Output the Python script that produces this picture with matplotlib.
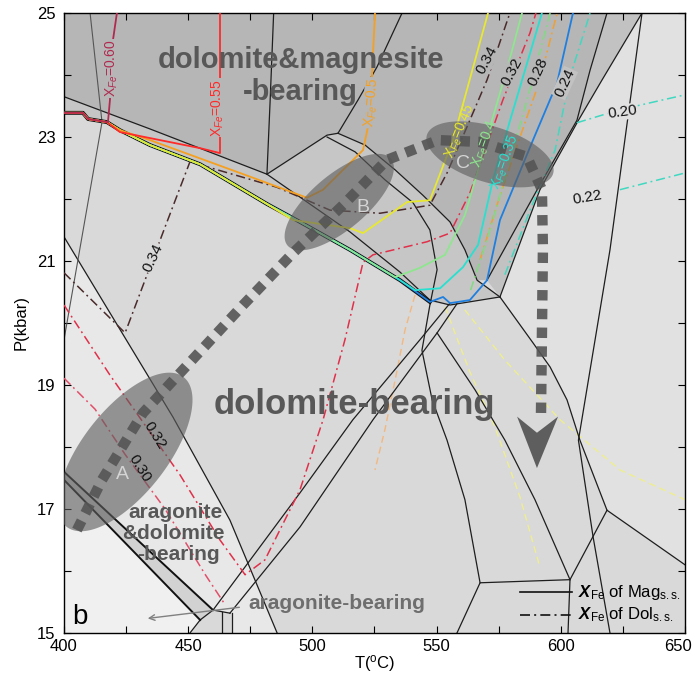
import numpy as np
import matplotlib
matplotlib.use("Agg")
import matplotlib.pyplot as plt
from matplotlib.patches import Polygon
from matplotlib.transforms import ScaledTranslation

plt.rcParams['font.family'] = ['Liberation Sans', 'DejaVu Sans']
plt.rcParams['mathtext.fontset'] = 'custom'
plt.rcParams['mathtext.rm'] = 'Liberation Sans'
plt.rcParams['mathtext.it'] = 'Liberation Sans:italic'
plt.rcParams['mathtext.bf'] = 'Liberation Sans:bold:italic'

# ---------------- data (T in degC, P in kbar) ----------------
# shared lower edge of the narrow band where all Mag isopleths run together
band_T = [400.0, 407.6, 409.7, 417.3, 422.5, 434.6, 454.8, 481.7, 495.0, 515.1, 535.3, 547.3]
band_P = [23.39, 23.39, 23.29, 23.24, 23.11, 22.87, 22.56, 21.92, 21.63, 21.18, 20.69, 20.34]

# XFe of magnesite (solid)
mag060_T = [400.0, 407.6, 409.7, 417.7, 418.5, 419.7, 421.3]
mag060_P = [23.39, 23.39, 23.29, 23.24, 23.60, 24.56, 25.0]
mag055_T = [400.0, 407.6, 409.7, 417.3, 422.5, 454.8, 462.8, 462.8]
mag055_P = [23.39, 23.39, 23.29, 23.24, 23.08, 22.82, 22.74, 25.0]
mag050_T = band_T[:5] + [434.6, 474.9, 497.8, 504.3, 520.4, 523.2, 525.2]
mag050_P = band_P[:5] + [22.95, 22.36, 22.02, 22.15, 22.79, 23.32, 25.0]
mag045_T = band_T[:8] + [492.2, 515.1, 520.4, 538.1, 547.3, 556.6, 562.2, 570.7]
mag045_P = band_P[:8] + [21.66, 21.53, 21.45, 21.95, 21.98, 22.95, 23.76, 25.0]
mag040_T = band_T[:10] + [533.3, 543.3, 553.4, 561.4, 566.7, 572.3, 578.8, 584.4]
mag040_P = band_P[:10] + [20.74, 20.89, 21.10, 21.74, 22.47, 23.27, 24.16, 25.0]
mag035_T = band_T[:11] + [541.3, 551.4, 560.6, 566.7, 572.7, 579.6, 586.8, 592.4]
mag035_P = band_P[:11] + [20.53, 20.56, 20.90, 21.26, 22.31, 23.27, 24.24, 25.0]
mag030_T = band_T + [552.6, 555.4, 563.4, 570.3, 575.5, 588.8, 598.5, 604.9]
mag030_P = band_P + [20.42, 20.32, 20.37, 20.69, 21.66, 22.95, 23.87, 25.0]

# XFe of dolomite (dash-dot)
dol034_T = [400.0, 424.6, 440.7, 450.7, 485.7, 507.1, 527.2, 547.3, 554.2, 562.2, 570.3, 579.5]
dol034_P = [20.81, 19.84, 21.55, 22.60, 22.19, 21.82, 21.77, 21.90, 22.42, 23.16, 23.92, 25.0]
dol032_T = [400.0, 418.5, 434.6, 446.7, 462.8, 472.9, 480.9, 495.0, 504.3, 513.1, 520.4,
            524.4, 546.1, 555.4, 563.4, 576.7, 587.6, 590.0]
dol032_P = [20.29, 19.16, 18.24, 17.55, 16.50, 15.94, 16.18, 17.31, 18.44, 19.73, 20.98,
            21.10, 21.31, 21.45, 22.10, 23.60, 24.68, 25.0]
dol030_T = [400.0, 412.5, 424.6, 440.7, 456.9, 464.8]
dol030_P = [19.11, 18.61, 17.88, 17.0, 15.94, 15.46]
dol028_T = [567.5, 575.5, 583.6, 591.6, 598.5]
dol028_P = [21.02, 22.05, 23.0, 23.92, 25.0]
dol026_T = [563.7, 571.5, 579.6, 587.6, 595.7]
dol026_P = [20.53, 21.50, 22.63, 23.76, 25.0]
dol024_T = [577.5, 587.6, 597.7, 603.7, 611.8]
dol024_P = [20.78, 21.82, 22.79, 23.97, 25.0]
dol020_T = [606.5, 623.8, 650.0]
dol020_P = [23.23, 23.44, 23.68]
dol022_T = [623.8, 650.0]
dol022_P = [22.15, 22.42]
faint_or_T = [541.3, 537.3, 533.3, 529.2, 525.2]
faint_or_P = [20.45, 19.89, 19.08, 18.28, 17.63]
faint_y1_T = [553.4, 563.4, 573.5, 583.6, 591.6]
faint_y1_P = [20.26, 19.21, 18.32, 17.19, 16.06]
faint_y2_T = [561.4, 577.5, 599.7, 623.8, 650.0]
faint_y2_P = [20.21, 19.40, 18.44, 17.63, 17.15]

# phase boundaries (black)
bounds = [
    ([400.0, 434.6, 481.7, 505.9, 510.3, 518.4, 526.0, 536.1], [23.65, 23.13, 22.40, 23.03, 23.06, 23.60, 24.13, 25.0]),
    ([484.4, 483.0, 481.7], [25.0, 23.60, 22.40]),
    ([510.3, 521.2, 533.3, 544.5, 555.4, 561.4, 566.3, 575.5], [23.06, 22.87, 22.47, 22.06, 21.63, 21.18, 20.69, 20.42]),
    ([505.9, 517.2, 529.2, 540.5, 547.3, 550.2, 547.3, 544.1, 548.2, 554.2, 561.4, 567.5],
     [23.00, 22.76, 22.31, 21.94, 21.50, 20.86, 20.29, 19.56, 18.76, 18.11, 17.15, 15.81]),
    ([481.7, 495.0, 515.1, 535.3, 547.3, 555.4, 575.5], [22.40, 22.03, 21.47, 20.82, 20.37, 20.29, 20.42]),
    ([618.6, 611.8, 606.5, 591.6, 570.3], [25.0, 24.08, 23.27, 22.23, 20.69]),
    ([632.7, 616.6, 607.1, 591.6, 575.5], [25.0, 23.92, 23.27, 22.15, 20.42]),
    ([460.0, 495.0, 516.3, 543.3, 555.4], [15.37, 17.26, 18.44, 19.73, 20.32]),
    ([466.8, 495.0, 524.4, 550.2, 558.2], [15.32, 16.71, 18.44, 19.84, 20.31]),
    ([450.7, 454.8, 460.0, 466.8], [15.0, 15.21, 15.37, 15.32]),
    ([463.6, 463.6], [15.34, 15.0]),
    ([467.6, 467.6], [15.32, 15.0]),
    ([400.0, 443.9, 466.8, 485.8], [21.39, 18.48, 16.82, 15.0]),
    ([575.5, 588.8, 595.7, 602.5, 607.7, 618.6, 650.0], [20.42, 19.68, 19.29, 18.76, 18.11, 16.98, 16.10]),
    ([550.2, 565.5, 577.5, 589.6, 603.7], [19.84, 18.92, 18.11, 17.15, 15.86]),
    ([632.7, 619.8, 607.1, 613.0, 619.8], [25.0, 21.18, 18.11, 16.55, 15.0]),
    ([558.2, 567.5, 603.7, 602.9], [15.0, 15.81, 15.86, 15.0]),
    ([603.7, 618.6], [15.86, 16.98]),
]
thin_left_T = [410.5, 415.3, 400.0]
thin_left_P = [25.0, 23.24, 19.73]
thick1_T = [400.0, 460.0]
thick1_P = [17.60, 15.37]
thick2_T = [400.0, 454.8]
thick2_P = [17.47, 15.21]

# shaded fields
reg_top = [(400, 25), (618.6, 25), (611.8, 24.08), (606.5, 23.27), (591.6, 22.23), (570.3, 20.69),
           (566.3, 20.69), (561.4, 21.18), (555.4, 21.63), (544.5, 22.06), (533.3, 22.47), (521.2, 22.87),
           (510.3, 23.06), (505.9, 23.03), (481.7, 22.40), (434.6, 23.13), (400, 23.65)]
reg_band = ([(400, 23.65), (434.6, 23.13), (481.7, 22.40), (505.9, 23.03), (510.3, 23.06), (521.2, 22.87),
             (533.3, 22.47), (544.5, 22.06), (555.4, 21.63), (561.4, 21.18), (566.3, 20.69), (575.5, 20.42),
             (555.4, 20.29)] + list(zip(band_T[::-1], band_P[::-1])))
reg_strip = [(618.6, 25), (632.7, 25), (616.6, 23.92), (607.1, 23.27), (591.6, 22.15), (575.5, 20.42),
             (570.3, 20.69), (591.6, 22.23), (606.5, 23.27), (611.8, 24.08)]
reg_right = [(632.7, 25), (650, 25), (650, 16.10), (618.6, 16.98), (607.7, 18.11), (602.5, 18.76),
             (595.7, 19.29), (588.8, 19.68), (575.5, 20.42), (591.6, 22.15), (607.1, 23.27), (616.6, 23.92)]
reg_aragdol = [(400, 21.39), (443.9, 18.48), (466.8, 16.82), (485.8, 15.0), (467.6, 15.0), (467.6, 15.32),
               (460.0, 15.37), (400, 17.60)]
reg_thick = [(400, 17.60), (460, 15.37), (454.8, 15.21), (400, 17.47)]
reg_arag = [(400, 17.47), (454.8, 15.21), (450.7, 15.0), (400, 15.0)]

# P-T path and arrow head
path_T = [405.2, 415.3, 431.8, 451.5, 472.1, 492.2, 512.3, 530.0, 550.6, 567.5, 586.4, 592.4, 592.8, 592.0]
path_P = [16.66, 17.47, 18.55, 19.40, 20.29, 21.13, 21.90, 22.63, 22.95, 22.92, 22.68, 22.15, 21.18, 18.44]
head_T = [582.4, 590.4, 598.9, 590.4]
head_P = [18.49, 18.23, 18.49, 17.66]

# ellipses: name, centre T, centre P
ell_names = ['A', 'B', 'C']
ell_T = [424.6, 510.8, 571.5]
ell_P = [17.92, 21.95, 22.72]
ell_lab_T = [423.5, 520.2, 560.5]
ell_lab_P = [17.55, 21.86, 22.58]

# ---------------- figure ----------------
W, H = 6.97, 6.74
fig = plt.figure(figsize=(W, H), dpi=100)
L, R, B, T = 64 / 697, 685 / 697, 41 / 674, 661 / 674
ax = fig.add_axes([L, B, R - L, T - B])
ax.set_xlim(400, 650)
ax.set_ylim(15, 25)
ax.set_facecolor('#d9d9d9')

sx = 250 / (W * 100 * (R - L))
sy = 10 / (H * 100 * (T - B))

for pts, col in [(reg_top, '#b6b6b6'), (reg_band, '#c6c6c6'), (reg_strip, '#c2c2c2'),
                 (reg_right, '#e1e1e1'), (reg_aragdol, '#e8e8e8'), (reg_thick, '#d2d2d2'),
                 (reg_arag, '#f0f0f0')]:
    ax.add_patch(Polygon(pts, closed=True, facecolor=col, edgecolor='none', zorder=0))

# faint dashed lines
for xs, ys, c in [(faint_or_T, faint_or_P, '#f2b880'), (faint_y1_T, faint_y1_P, '#eeee90'),
                  (faint_y2_T, faint_y2_P, '#eeee90')]:
    ax.plot(xs, ys, color=c, lw=1.0, ls=(0, (5, 3)), zorder=1)

# black phase boundaries
for xs, ys in bounds:
    ax.plot(xs, ys, color='#1e1e1e', lw=0.9, zorder=2)
ax.plot(thin_left_T, thin_left_P, color='#555555', lw=0.8, zorder=2)
ax.plot(thick1_T, thick1_P, color='#111111', lw=1.4, zorder=2)
ax.plot(thick2_T, thick2_P, color='#111111', lw=1.4, zorder=2)
ax.plot(band_T, band_P, color='#111111', lw=2.8, zorder=2)

# dolomite isopleths (dash-dot)
dd = (0, (6, 2.5, 1.2, 2.5))
for xs, ys, c in [(dol034_T, dol034_P, '#4a2a2a'), (dol032_T, dol032_P, '#e0304a'),
                  (dol030_T, dol030_P, '#e0506a'), (dol028_T, dol028_P, '#f0a030'),
                  (dol026_T, dol026_P, '#7fdc7f'), (dol024_T, dol024_P, '#40d8c0'),
                  (dol020_T, dol020_P, '#40d8c0'), (dol022_T, dol022_P, '#40d8c0')]:
    ax.plot(xs, ys, color=c, lw=1.1, ls=dd, zorder=3)

# magnesite isopleths (solid)
mag = [(mag030_T, mag030_P, '#1f7fe0'), (mag035_T, mag035_P, '#28e0d0'), (mag040_T, mag040_P, '#8ee68e'),
       (mag045_T, mag045_P, '#e8e830'), (mag050_T, mag050_P, '#f5a020'), (mag055_T, mag055_P, '#ff2a2a'),
       (mag060_T, mag060_P, '#b02a50')]
for xs, ys, c in mag:
    ax.plot(xs, ys, color=c, lw=1.3, zorder=4)

# ellipses (sized in pixels, converted to data units)
ell_w = [190, 135, 132]
ell_h = [85, 55, 56]
ell_a = [52, 40, -17]
tt = np.linspace(0, 2 * np.pi, 160)
for tc, pc, w, h, a in zip(ell_T, ell_P, ell_w, ell_h, ell_a):
    ar = np.deg2rad(a)
    dx = w / 2 * np.cos(tt) * np.cos(ar) - h / 2 * np.sin(tt) * np.sin(ar)
    dy = w / 2 * np.cos(tt) * np.sin(ar) + h / 2 * np.sin(tt) * np.cos(ar)
    ax.fill(tc + dx * sx, pc + dy * sy, color='#5e5e5e', alpha=0.62, lw=0, zorder=5)
for n, x, y in zip(ell_names, ell_lab_T, ell_lab_P):
    ax.text(x, y, n, color='#d4d4d4', fontsize=14, ha='center', va='center', zorder=8)

# P-T path
ax.plot(path_T, path_P, color='#555555', lw=7.5, ls=(0, (1.0, 0.8)), dash_capstyle='butt',
        alpha=0.9, zorder=6)
ax.fill(head_T, head_P, color='#5e5e5e', lw=0, zorder=6)


# isopleth labels
def lab(x, y, s, rot, c='#111111', fs=10, bg=None):
    kw = dict(color=c, fontsize=fs, rotation=rot, ha='center', va='center',
              rotation_mode='anchor', zorder=9)
    if bg:
        kw['bbox'] = dict(facecolor=bg, edgecolor='none', pad=0.5)
    ax.text(x, y, s, **kw)


lab(419.3, 24.11, r'X$_{Fe}$=0.60', 90, '#b02a50', 10, '#b6b6b6')
lab(462.0, 23.47, r'X$_{Fe}$=0.55', 90, '#ff2a2a', 10, '#b6b6b6')
lab(524.0, 23.55, r'X$_{Fe}$=0.5', 85, '#f5a020', 10, '#b6b6b6')
lab(559.4, 23.10, r'X$_{Fe}$=0.45', 68, '#e8e830', 10)
lab(569.5, 22.90, r'X$_{Fe}$=0.4', 70, '#8ee68e', 10)
lab(577.5, 22.60, r'X$_{Fe}$=0.35', 70, '#28e0d0', 10)

lab(570.3, 24.24, '0.34', 62, fs=11, bg='#b6b6b6')
lab(580.4, 24.05, '0.32', 62, fs=11, bg='#b6b6b6')
lab(590.8, 24.05, '0.28', 65, fs=11, bg='#b6b6b6')
lab(601.5, 23.87, '0.24', 65, fs=11, bg='#c2c2c2')
lab(625.0, 23.40, '0.20', 8, fs=11, bg='#e1e1e1')
lab(610.6, 22.03, '0.22', 10, fs=11)
lab(435.8, 21.05, '0.34', 65, fs=11, bg='#d9d9d9')
lab(436.6, 18.19, '0.32', -58, fs=11)
lab(430.6, 17.66, '0.30', -58, fs=11)

# field names
fk = dict(color='#585858', fontweight='bold', ha='center', va='center', zorder=9)
ax.text(495.4, 24.24, 'dolomite&magnesite', fontsize=21, **fk)
ax.text(495.0, 23.72, '-bearing', fontsize=21, **fk)
ax.text(516.7, 18.68, 'dolomite-bearing', fontsize=25, **fk)
ax.text(444.7, 16.95, 'aragonite', fontsize=15, **fk)
ax.text(443.9, 16.61, '&dolomite', fontsize=15, **fk)
ax.text(445.9, 16.27, '-bearing', fontsize=15, **fk)
ax.text(509.9, 15.47, 'aragonite-bearing', fontsize=15, color='#6e6e6e', fontweight='bold',
        ha='center', va='center', zorder=9)
ax.annotate('', xy=(432.6, 15.23), xytext=(471.7, 15.42),
            arrowprops=dict(arrowstyle='->', color='#808080', lw=1.0), zorder=9)
ax.text(406.4, 15.25, 'b', fontsize=20, ha='center', va='center', zorder=9)

# legend
ax.plot([583.6, 604.5], [15.66, 15.66], color='#111111', lw=1.2, zorder=9)
ax.plot([583.6, 604.5], [15.29, 15.29], color='#111111', lw=1.2, ls=dd, zorder=9)
ax.text(607.0, 15.66, r'$\mathbf{X}_{\mathrm{Fe}}$ of Mag$_{\mathrm{s.s.}}$', fontsize=12,
        ha='left', va='center', zorder=9)
ax.text(607.0, 15.29, r'$\mathbf{X}_{\mathrm{Fe}}$ of Dol$_{\mathrm{s.s.}}$', fontsize=12,
        ha='left', va='center', zorder=9)

# axes
ax.set_xticks([400, 450, 500, 550, 600, 650])
ax.set_xticks(np.arange(425, 650, 50), minor=True)
ax.set_yticks([15, 17, 19, 21, 23, 25])
ax.set_yticks(np.arange(16, 25, 2), minor=True)
ax.tick_params(which='both', direction='in', top=True, right=True, labelsize=12, length=5, width=0.8)
ax.tick_params(axis='x', which='major', pad=4)
ax.tick_params(axis='y', which='major', pad=6)
last = ax.get_xticklabels()[-1]
last.set_transform(last.get_transform() + ScaledTranslation(-0.07, 0, fig.dpi_scale_trans))
ax.set_xlabel('T($^{\\mathrm{o}}$C)', fontsize=12)
ax.xaxis.set_label_coords(0.5, -0.033)
ax.set_ylabel('P(kbar)', fontsize=12, labelpad=6)
for s in ax.spines.values():
    s.set_linewidth(1.0)

fig.savefig('out.png', dpi=100)
